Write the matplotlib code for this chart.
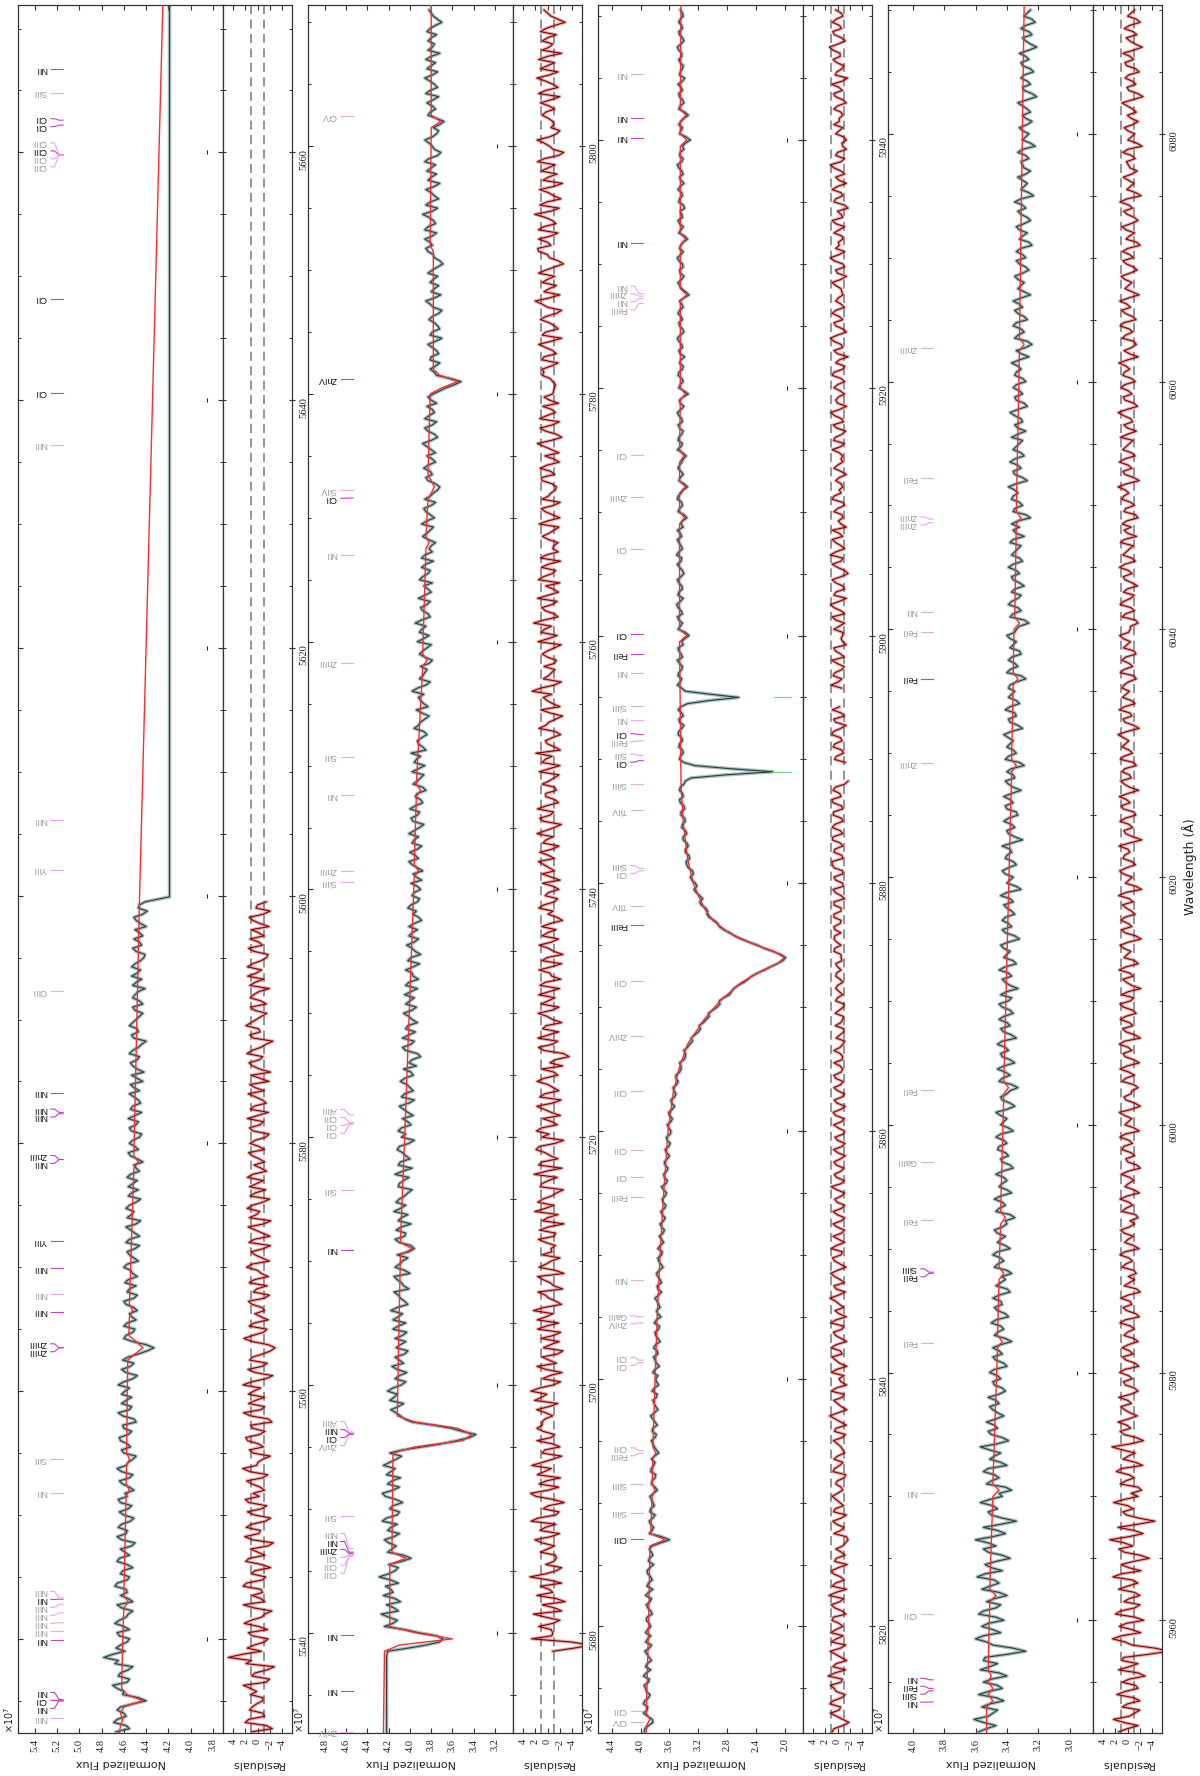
import numpy as np
import matplotlib
matplotlib.use("Agg")
import matplotlib.pyplot as plt
import matplotlib.transforms as mtransforms
from matplotlib.ticker import MultipleLocator, FormatStrFormatter

plt.rcParams['font.family'] = 'DejaVu Sans'
plt.rcParams['font.serif'] = ['Liberation Serif', 'DejaVu Serif']
plt.rcParams['mathtext.fontset'] = 'dejavusans'

# wavelength range of each row (Angstrom)
row_lims = [(5532.4, 5671.9), (5671.9, 5811.4), (5811.4, 5950.9), (5950.9, 6090.4)]
# first sample of each row; flux0..3 are read every 0.5 A, mid0..3 sit half way between
row_start = [5532.5, 5678.5, 5811.5, 5951.0]
step = 0.5

# observed flux in units of 1e5 (467 -> 4.67 x 1e7)
flux0 = [467, 458, 466, 460, 463, 440, 461, 466, 457, 465,
         456, 468, 478, 459, 463, 455, 466, 460, 464, 456,
         462, 452, 463, 458, 466, 455, 461, 457, 464, 459,
         453, 462, 458, 465, 454, 460, 456, 463, 457, 451,
         461, 455, 462, 458, 452, 460, 454, 463, 456, 460,
         449, 461, 455, 462, 453, 459, 465, 452, 458, 454,
         461, 447, 433, 452, 458, 450, 457, 453, 448, 458,
         451, 457, 449, 456, 452, 460, 447, 455, 450, 458,
         446, 454, 449, 457, 451, 455, 445, 453, 456, 448,
         454, 449, 443, 454, 447, 455, 446, 453, 449, 456,
         444, 452, 447, 455, 451, 443, 453, 448, 454, 446,
         452, 444, 451, 447, 455, 449, 443, 452, 446, 450,
         441, 449, 453, 445, 450, 442, 449, 444, 451, 446,
         440, 449, 443, 447, 441]
mid0 = [455, 469, 458, 466, 452, 447, 460, 470, 455, 463,
        452, 465, 470, 467, 457, 464, 455, 468, 458, 452,
        466, 456, 457, 468, 457, 463, 452, 466, 455, 463,
        450, 466, 457, 462, 451, 464, 453, 465, 459, 455,
        464, 452, 466, 456, 449, 462, 457, 464, 453, 461,
        451, 465, 453, 458, 462, 455, 460, 448, 462, 451,
        456, 439, 440, 460, 452, 460, 449, 455, 451, 460,
        448, 455, 459, 448, 454, 457, 451, 457, 446, 455,
        450, 458, 445, 453, 458, 449, 456, 447, 452, 457,
        446, 451, 448, 456, 450, 452, 444, 455, 447, 450,
        454, 445, 451, 446, 454, 448, 442, 452, 448, 455,
        447, 440, 453, 448, 452, 446, 450, 443, 452, 447,
        452, 444, 448, 453, 445, 441, 452, 446, 443, 450,
        445, 451, 439, 446]
flux1 = [421, 385, 369, 392, 424, 412, 427, 415, 409, 425,
         418, 411, 429, 414, 420, 399, 421, 413, 424, 410,
         418, 426, 412, 419, 407, 423, 416, 421, 409, 418,
         425, 413, 419, 388, 356, 338, 361, 398, 409, 418,
         406, 415, 421, 408, 414, 403, 417, 410, 405, 413,
         404, 407, 416, 404, 411, 418, 402, 409, 415, 406,
         412, 400, 414, 407, 412, 396, 410, 405, 413, 399,
         408, 415, 404, 410, 402, 411, 406, 414, 398, 409,
         404, 412, 401, 408, 411, 399, 407, 402, 410, 396,
         405, 400, 409, 397, 406, 401, 390, 404, 399, 407,
         395, 402, 398, 406, 394, 400, 405, 393, 401, 397,
         404, 391, 399, 395, 403, 392, 398, 401, 389, 397,
         402, 393, 398, 390, 399, 394, 388, 398, 392, 400,
         389, 396, 401, 391, 397, 393, 400, 388, 395, 385,
         397, 390, 398, 386, 394, 399, 388, 393, 384, 396,
         390, 382, 394, 387, 392, 398, 385, 391, 386, 390,
         379, 391, 384, 393, 382, 389, 395, 381, 388, 384,
         392, 380, 387, 391, 383, 389, 378, 386, 382, 376,
         388, 381, 389, 377, 385, 380, 386, 378, 372, 383,
         379, 387, 376, 384, 380, 388, 374, 383, 379, 386,
         377, 384, 380, 378, 366, 352, 375, 381, 372, 380,
         375, 383, 370, 379, 374, 382, 373, 378, 385, 371,
         377, 381, 374, 379, 369, 377, 383, 379, 386, 375,
         383, 378, 388, 374, 381, 377, 385, 372, 380, 384,
         376, 382, 371, 379, 386, 375, 378, 368, 383, 376,
         384, 373, 381, 377, 386, 374, 380, 385, 372, 379,
         383, 375, 381, 370, 378, 382]
mid1 = [402, 372, 375, 405, 416, 420, 411, 422, 414, 416,
        423, 418, 420, 411, 408, 406, 417, 420, 415, 421,
        412, 422, 410, 416, 413, 426, 410, 417, 422, 414,
        419, 408, 407, 370, 344, 351, 378, 405, 413, 411,
        419, 412, 416, 404, 410, 412, 406, 414, 402, 409,
        414, 403, 411, 416, 407, 412, 405, 411, 401, 408,
        415, 405, 410, 402, 401, 399, 414, 404, 408, 411,
        402, 409, 413, 405, 398, 410, 401, 407, 411, 400,
        407, 410, 396, 404, 408, 402, 397, 406, 401, 408,
        397, 403, 405, 399, 394, 398, 393, 407, 396, 401,
        404, 393, 401, 398, 404, 396, 399, 404, 392, 398,
        397, 402, 390, 398, 396, 401, 393, 396, 392, 394,
        399, 391, 396, 393, 389, 397, 393, 401, 395, 393,
        398, 392, 396, 387, 399, 391, 395, 390, 393, 388,
        393, 387, 392, 396, 390, 385, 392, 389, 387, 392,
        386, 389, 383, 390, 387, 393, 381, 388, 384, 382,
        386, 388, 380, 387, 391, 385, 389, 383, 390, 381,
        386, 383, 379, 388, 381, 385, 389, 379, 380, 383,
        384, 378, 384, 381, 387, 376, 381, 374, 376, 385,
        381, 383, 379, 376, 384, 380, 377, 386, 375, 382,
        379, 375, 383, 372, 358, 362, 377, 376, 381, 373,
        379, 376, 381, 372, 377, 379, 370, 381, 377, 380,
        373, 378, 383, 374, 372, 378, 385, 381, 379, 386,
        376, 382, 379, 385, 373, 380, 377, 383, 375, 380,
        386, 374, 377, 382, 379, 373, 372, 375, 381, 379,
        378, 385, 374, 381, 379, 384, 376, 380, 383, 377,
        380, 384, 376, 374, 380]
flux2 = [395, 389, 384, 396, 390, 394, 387, 393, 389, 396,
         386, 391, 388, 394, 385, 390, 393, 386, 392, 384,
         390, 387, 393, 383, 389, 386, 391, 382, 388, 385,
         384, 360, 388, 382, 388, 380, 386, 383, 387, 377,
         385, 380, 386, 382, 385, 375, 381, 385, 378, 383,
         380, 386, 376, 381, 378, 384, 375, 379, 383, 374,
         380, 376, 382, 373, 379, 375, 381, 372, 378, 375,
         380, 371, 377, 373, 378, 369, 375, 371, 376, 368,
         374, 367, 373, 366, 372, 365, 370, 364, 371, 363,
         368, 362, 367, 360, 366, 359, 364, 358, 363, 356,
         361, 353, 358, 351, 355, 348, 351, 344, 346, 338,
         340, 332, 330, 320, 319, 309, 306, 294, 291, 277,
         271, 257, 246, 228, 211, 199, 217, 238, 261, 276,
         291, 298, 308, 310, 318, 318, 326, 324, 331, 328,
         336, 332, 338, 334, 341, 336, 343, 338, 344, 339,
         345, 341, 346, 340, 330, 217, 325, 346, 341, 347,
         342, 348, 343, 346, 341, 348, 335, 264, 338, 349,
         343, 347, 342, 349, 344, 348, 343, 333, 348, 342,
         349, 344, 350, 341, 347, 343, 349, 340, 346, 344,
         350, 342, 347, 343, 349, 344, 336, 348, 342, 349,
         344, 335, 347, 341, 348, 343, 337, 349, 342, 347,
         341, 348, 343, 349, 340, 346, 334, 347, 341, 348,
         342, 346, 339, 347, 343, 349, 340, 346, 342, 348,
         341, 346, 333, 343, 348, 340, 346, 342, 349, 341,
         344, 335, 347, 341, 348, 343, 339, 347, 342, 348,
         340, 346, 343, 349, 341, 345, 342, 331, 346, 342,
         344, 334, 347, 340, 346, 342, 348, 339, 345, 341,
         347, 343, 349, 340, 346, 342, 347, 341, 345]
mid2 = [394, 383, 390, 391, 396, 389, 392, 395, 388, 392,
        393, 385, 391, 388, 393, 386, 390, 388, 391, 386,
        392, 385, 389, 391, 384, 390, 387, 389, 383, 388,
        372, 371, 384, 386, 383, 387, 381, 385, 382, 380,
        384, 379, 385, 380, 381, 378, 383, 380, 384, 377,
        383, 381, 379, 383, 377, 381, 378, 376, 380, 378,
        382, 377, 379, 376, 380, 374, 378, 376, 373, 377,
        375, 376, 371, 376, 374, 372, 376, 370, 373, 371,
        369, 371, 368, 370, 367, 369, 366, 368, 365, 367,
        364, 366, 363, 364, 361, 363, 359, 361, 358, 360,
        356, 357, 353, 354, 350, 351, 346, 344, 340, 338,
        335, 328, 325, 317, 313, 305, 300, 290, 285, 274,
        265, 251, 238, 220, 203, 206, 229, 250, 270, 285,
        293, 305, 307, 316, 314, 323, 322, 329, 327, 334,
        337, 333, 338, 336, 341, 338, 342, 339, 344, 340,
        346, 342, 345, 338, 282, 276, 340, 345, 342, 346,
        343, 347, 340, 347, 343, 344, 305, 302, 343, 345,
        348, 343, 346, 342, 347, 341, 339, 338, 345, 347,
        342, 348, 345, 348, 342, 347, 344, 342, 349, 343,
        347, 344, 349, 345, 341, 342, 340, 346, 343, 348,
        341, 340, 345, 344, 346, 341, 342, 344, 348, 343,
        346, 342, 347, 344, 345, 341, 340, 345, 343, 347,
        341, 344, 345, 342, 347, 345, 342, 347, 344, 346,
        343, 340, 338, 346, 343, 345, 341, 347, 344, 346,
        341, 339, 344, 346, 342, 345, 341, 346, 343, 345,
        344, 341, 347, 343, 346, 340, 338, 337, 344, 347,
        340, 339, 345, 342, 347, 344, 342, 346, 342, 345,
        343, 347, 344, 342, 347, 343, 345, 342]
flux3 = [358, 347, 361, 349, 356, 342, 358, 343, 355, 340,
         357, 346, 354, 328, 349, 360, 344, 356, 342, 358,
         347, 353, 340, 356, 345, 359, 343, 354, 338, 352,
         347, 360, 341, 355, 334, 350, 346, 357, 343, 337,
         353, 345, 355, 340, 351, 344, 357, 339, 350, 346,
         353, 342, 349, 345, 352, 341, 348, 344, 351, 340,
         347, 343, 349, 337, 348, 342, 350, 339, 346, 343,
         349, 338, 347, 341, 337, 348, 342, 349, 338, 346,
         341, 348, 340, 335, 347, 341, 348, 337, 345, 340,
         347, 336, 343, 339, 346, 340, 347, 336, 344, 340,
         347, 335, 343, 340, 333, 345, 338, 346, 335, 343,
         339, 346, 334, 342, 338, 345, 336, 343, 339, 344,
         333, 341, 337, 345, 334, 342, 338, 344, 332, 341,
         337, 343, 335, 340, 336, 344, 331, 340, 336, 343,
         334, 341, 337, 343, 330, 339, 335, 342, 333, 340,
         336, 342, 331, 339, 335, 340, 329, 341, 334, 340,
         336, 342, 330, 338, 334, 341, 332, 339, 335, 338,
         328, 340, 333, 339, 331, 338, 334, 340, 334, 326,
         338, 331, 339, 333, 337, 329, 336, 332, 339, 330,
         337, 333, 338, 329, 336, 337, 325, 336, 330, 337,
         333, 339, 327, 335, 331, 338, 329, 336, 332, 337,
         328, 335, 331, 338, 327, 334, 330, 336, 328, 335,
         331, 337, 326, 334, 324, 335, 329, 336, 327, 333,
         330, 336, 325, 333, 329, 335, 326, 332, 328, 334,
         324, 332, 327, 334, 325, 331, 328, 335, 323, 331,
         327, 333, 325, 330, 326, 333, 322, 330, 326, 332,
         324, 330, 327, 333, 321, 329, 325, 331, 323, 330,
         326, 332, 321, 328, 324, 331, 322, 329, 325]
mid3 = [353, 355, 352, 346, 351, 347, 352, 346, 350, 345,
        351, 355, 340, 336, 353, 355, 349, 352, 347, 355,
        344, 348, 345, 351, 348, 354, 350, 347, 343, 355,
        352, 349, 346, 344, 343, 352, 349, 351, 345, 341,
        350, 348, 352, 344, 348, 351, 346, 343, 352, 348,
        347, 346, 351, 347, 345, 343, 349, 346, 348, 342,
        349, 345, 344, 341, 346, 344, 347, 341, 348, 344,
        345, 340, 344, 343, 340, 346, 344, 346, 341, 344,
        346, 343, 341, 338, 345, 343, 344, 340, 343, 342,
        343, 338, 344, 341, 345, 342, 344, 339, 342, 344,
        340, 338, 344, 338, 337, 343, 341, 342, 338, 344,
        341, 343, 337, 344, 340, 342, 338, 345, 337, 340,
        338, 343, 339, 341, 336, 340, 342, 339, 335, 343,
        339, 341, 337, 342, 338, 340, 334, 338, 341, 339,
        336, 340, 338, 337, 335, 340, 337, 339, 334, 341,
        338, 337, 336, 341, 336, 337, 332, 339, 336, 338,
        339, 337, 333, 339, 335, 338, 334, 337, 339, 334,
        331, 338, 335, 337, 332, 336, 338, 335, 332, 329,
        336, 333, 337, 331, 335, 332, 337, 334, 336, 332,
        335, 331, 336, 334, 332, 333, 328, 335, 332, 336,
        335, 334, 330, 336, 333, 335, 331, 334, 330, 333,
        333, 330, 335, 333, 329, 335, 332, 334, 330, 334,
        333, 332, 331, 328, 327, 333, 331, 334, 329, 335,
        332, 331, 329, 331, 333, 330, 328, 334, 330, 331,
        326, 330, 332, 329, 327, 333, 330, 331, 326, 329,
        330, 328, 329, 331, 328, 330, 325, 328, 330, 327,
        328, 325, 330, 327, 324, 330, 327, 329, 325, 331,
        328, 326, 325, 330, 326, 328, 324, 327]

# stretches without data (drawn flat)
gap0_wave = [5599.9, 5671.9]
gap0_flux = [4.19, 4.19]
gap1_wave = [5671.9, 5678.1]
gap1_flux = [4.22, 4.22]

# fitted model (red), x 1e7
model0_wave = [5532.4, 5533.0, 5533.5, 5534.0, 5534.5, 5535.0, 5535.5, 5536.0, 5540.0, 5542.5,
               5543.0, 5543.5, 5551.5, 5552.0, 5552.5, 5554.0, 5554.5, 5555.0, 5562.5, 5563.0,
               5563.5, 5564.0, 5564.5, 5566.0, 5566.5, 5567.0, 5578.0, 5578.5, 5579.0, 5599.5, 5671.9]
model0_flux = [4.64, 4.63, 4.61, 4.63, 4.60, 4.43, 4.57, 4.62, 4.61, 4.60,
               4.56, 4.60, 4.58, 4.55, 4.58, 4.575, 4.55, 4.575, 4.565, 4.50,
               4.43, 4.49, 4.555, 4.55, 4.52, 4.55, 4.51, 4.47, 4.51, 4.46, 4.25]
model1_wave = [5671.9, 5678.5, 5679.0, 5679.5, 5680.0, 5680.5, 5685.5, 5686.0, 5686.5, 5694.5,
               5695.0, 5695.5, 5696.0, 5696.5, 5697.0, 5697.5, 5710.5, 5711.0, 5711.5, 5720.0,
               5741.0, 5741.5, 5742.0, 5747.5, 5748.0, 5748.5, 5758.0, 5758.5, 5759.0, 5767.5,
               5768.0, 5768.5, 5771.5, 5772.5, 5773.5, 5780.0, 5780.5, 5781.0, 5781.5, 5782.0,
               5791.5, 5792.0, 5801.5, 5802.0, 5802.5, 5811.4]
model1_flux = [4.25, 4.24, 4.10, 3.60, 3.95, 4.19, 4.19, 4.04, 4.17, 4.16,
               3.95, 3.50, 3.42, 3.55, 3.95, 4.12, 4.09, 3.98, 4.09, 4.05,
               3.96, 3.92, 3.96, 3.94, 3.90, 3.94, 3.88, 3.84, 3.88, 3.85,
               3.82, 3.85, 3.83, 3.77, 3.83, 3.81, 3.70, 3.55, 3.72, 3.78,
               3.78, 3.81, 3.80, 3.71, 3.80, 3.80]
model2_wave = [5811.4, 5812.0, 5812.5, 5813.0, 5820.0, 5826.5, 5827.0, 5827.5, 5830.5, 5831.0,
               5831.5, 5833.5, 5834.0, 5834.5, 5845.0, 5850.0, 5855.0, 5860.0, 5863.0, 5865.0,
               5867.0, 5869.0, 5870.5, 5872.0, 5873.0, 5873.5, 5874.0, 5874.5, 5875.0, 5876.0,
               5877.0, 5878.0, 5879.0, 5880.0, 5882.0, 5885.0, 5888.0, 5899.5, 5900.0, 5900.5,
               5909.0, 5909.5, 5910.0, 5911.5, 5912.0, 5912.5, 5914.0, 5914.5, 5915.0, 5919.0,
               5919.5, 5920.0, 5927.0, 5927.5, 5928.0, 5931.5, 5932.0, 5932.5, 5939.5, 5940.0,
               5940.5, 5941.5, 5942.0, 5942.5, 5950.9]
model2_flux = [3.92, 3.92, 3.87, 3.92, 3.89, 3.87, 3.66, 3.86, 3.84, 3.80,
               3.84, 3.83, 3.79, 3.83, 3.77, 3.73, 3.68, 3.62, 3.55, 3.47,
               3.35, 3.12, 2.90, 2.60, 2.30, 2.10, 2.01, 2.15, 2.40, 2.78,
               3.00, 3.12, 3.20, 3.27, 3.35, 3.41, 3.44, 3.46, 3.36, 3.46,
               3.46, 3.39, 3.46, 3.46, 3.38, 3.46, 3.46, 3.40, 3.46, 3.45,
               3.38, 3.45, 3.45, 3.36, 3.45, 3.45, 3.38, 3.45, 3.45, 3.36,
               3.45, 3.45, 3.37, 3.45, 3.44]
model3_wave = [5950.9, 5953.0, 5953.5, 5954.0, 5954.5, 5955.0, 5955.5, 5956.0, 5961.5, 5962.0,
               5962.5, 5970.0, 5970.5, 5971.0, 5982.0, 5982.5, 5983.0, 5987.5, 5988.0, 5988.5,
               5992.0, 5992.5, 5993.0, 6002.5, 6003.0, 6003.5, 6028.5, 6029.0, 6029.5, 6035.5,
               6036.0, 6036.5, 6040.0, 6040.5, 6041.0, 6048.5, 6049.0, 6049.5, 6062.5, 6063.0,
               6063.5, 6090.4]
model3_flux = [3.53, 3.53, 3.49, 3.52, 3.49, 3.52, 3.50, 3.52, 3.51, 3.47,
               3.51, 3.49, 3.45, 3.49, 3.46, 3.43, 3.46, 3.45, 3.42, 3.45,
               3.44, 3.41, 3.44, 3.42, 3.39, 3.42, 3.37, 3.34, 3.37, 3.36,
               3.33, 3.36, 3.355, 3.32, 3.35, 3.34, 3.31, 3.34, 3.32, 3.29,
               3.32, 3.29]

# line identifications: (wavelength, ion, strong)
lines0 = [(5533.6, 'NIII', 0), (5535.0, 'NII', 1), (5535.0, 'CII', 1), (5535.1, 'NII', 1),
          (5539.9, 'NII', 1), (5540.6, 'NIII', 0), (5541.3, 'NIII', 0), (5542.1, 'NIII', 0),
          (5542.8, 'NIII', 0), (5543.2, 'NII', 1), (5543.3, 'NIII', 0),
          (5551.8, 'NII', 0), (5554.5, 'SiII', 0), (5563.5, 'ZnIII', 1), (5563.5, 'ZnIII', 1),
          (5566.4, 'NIII', 1), (5567.8, 'NIII', 0), (5569.9, 'NIII', 1), (5572.1, 'YIII', 1),
          (5578.7, 'NIII', 1), (5578.7, 'ZnIII', 1), (5582.4, 'NIII', 1), (5582.5, 'NIII', 1),
          (5584.1, 'NIII', 1), (5592.3, 'OIII', 0), (5602.1, 'YIII', 0), (5606.1, 'NIII', 0),
          (5636.4, 'NIII', 0), (5640.6, 'CII', 1), (5648.2, 'CII', 1),
          (5659.8, 'CIII', 0), (5659.8, 'CIII', 0), (5659.8, 'CIII', 1), (5659.8, 'CIII', 0),
          (5662.2, 'CII', 1), (5662.6, 'CII', 1), (5664.8, 'SiII', 0), (5666.7, 'NII', 1)]
lines1 = [(5672.0, 'ZnIV', 0), (5675.3, 'NII', 1), (5679.8, 'NII', 1),
          (5686.2, 'CIII', 0), (5686.2, 'CIII', 0), (5686.3, 'CII', 0), (5686.4, 'ZnIII', 1),
          (5686.5, 'NII', 1), (5686.8, 'NIII', 0), (5689.4, 'SiII', 0),
          (5696.0, 'ZnIV', 0), (5696.0, 'CII', 1), (5696.1, 'NIII', 1), (5696.2, 'AlIII', 0),
          (5710.9, 'NII', 1), (5715.7, 'SiII', 0),
          (5721.0, 'CII', 0), (5721.1, 'CII', 0), (5721.2, 'CIII', 0), (5721.8, 'AlIII', 0),
          (5740.6, 'SiIII', 0), (5741.5, 'ZnIII', 0), (5747.6, 'NII', 0), (5750.7, 'SiII', 0),
          (5758.3, 'ZnIII', 0), (5767.0, 'NII', 0), (5771.6, 'CII', 1), (5772.2, 'SiIV', 0),
          (5781.2, 'ZnIV', 1), (5802.4, 'CIV', 0)]
lines2 = [(5812.3, 'CIV', 0), (5813.2, 'CIII', 0), (5827.1, 'CIII', 1), (5829.2, 'SiIII', 0),
          (5831.5, 'SiIII', 0), (5834.0, 'FeIII', 0), (5834.2, 'CIII', 0), (5841.3, 'CII', 0),
          (5841.5, 'CII', 0), (5844.5, 'ZnIV', 0), (5845.0, 'GaIII', 0), (5848.0, 'NIII', 0),
          (5854.7, 'FeIII', 0), (5856.3, 'CII', 0), (5858.5, 'CIII', 0), (5863.2, 'CIII', 0),
          (5867.7, 'ZnIV', 0), (5872.1, 'CIII', 0), (5876.6, 'FeIII', 1), (5878.2, 'TiIV', 0),
          (5881.0, 'CII', 0), (5881.2, 'SiIII', 0), (5885.9, 'TiIV', 0), (5888.0, 'SiIII', 0),
          (5889.9, 'CII', 1), (5890.3, 'SiII', 0), (5891.5, 'FeIII', 0), (5892.0, 'CII', 1),
          (5893.2, 'NII', 0), (5894.3, 'SiIII', 0), (5897.0, 'NII', 0), (5898.5, 'FeII', 1),
          (5900.1, 'CII', 1), (5907.0, 'CII', 0), (5911.2, 'ZnIII', 0), (5914.6, 'CII', 0),
          (5926.8, 'FeIII', 0), (5927.2, 'NII', 0), (5927.4, 'ZnIII', 0), (5927.6, 'NII', 0),
          (5931.7, 'NII', 1), (5940.2, 'NII', 1), (5941.8, 'NII', 1), (5945.3, 'NII', 0)]
lines3 = [(5953.4, 'NII', 1), (5954.3, 'SiIII', 1), (5954.5, 'FeII', 1), (5955.2, 'NII', 1),
          (5960.5, 'CIII', 0), (5970.3, 'NII', 0), (5982.4, 'FeII', 0), (5988.0, 'FeII', 1),
          (5988.1, 'SiIII', 1), (5992.3, 'FeII', 0), (5997.0, 'GaIII', 0), (6002.8, 'FeII', 0),
          (6029.2, 'ZnIII', 0), (6036.0, 'FeII', 1), (6039.8, 'FeII', 0), (6041.4, 'NII', 0),
          (6048.6, 'ZnIII', 0), (6048.9, 'ZnIII', 0), (6052.2, 'FeII', 0), (6062.7, 'ZnIII', 0)]
# interstellar sodium (green), not part of the fit
nai_wave = [5889.0, 5895.0]

flux_lims = [(5.55, 3.71), (4.96, 3.03), (4.59, 1.75), (4.16, 2.85)]
flux_step = [0.2, 0.2, 0.4, 0.2]
sigma = 0.035   # flux error used to normalise the residuals (x 1e7)

fluxes = [(flux0, mid0), (flux1, mid1), (flux2, mid2), (flux3, mid3)]
models = [(model0_wave, model0_flux), (model1_wave, model1_flux),
          (model2_wave, model2_flux), (model3_wave, model3_flux)]
gaps = [(gap0_wave, gap0_flux), (gap1_wave, gap1_flux), None, None]
all_lines = [lines0, lines1, lines2, lines3]


def spread(pos, gap):
    # push label positions apart so they do not overlap
    p = list(pos)
    for _ in range(300):
        moved = False
        for i in range(1, len(p)):
            d = p[i] - p[i - 1]
            if d < gap - 1e-6:
                s = (gap - d) / 2.0
                p[i - 1] -= s
                p[i] += s
                moved = True
        if not moved:
            break
    return p


def draw_labels(ax, lines):
    tr = mtransforms.blended_transform_factory(ax.transAxes, ax.transData)
    order = sorted(range(len(lines)), key=lambda k: lines[k][0])
    pos = spread([lines[k][0] for k in order], 0.64)
    for k, y in zip(order, pos):
        w, name, strong = lines[k]
        c = '#c93fc9' if strong else '#eaa6ea'
        ax.plot([0.16, 0.178, 0.20, 0.22], [y, y, w, w], color=c, lw=0.8,
                transform=tr, zorder=4)
        ax.text(0.141, y, name, transform=tr, rotation=180, rotation_mode='anchor',
                ha='left', va='center', fontsize=6.5, family='Liberation Sans',
                color='#111111' if strong else '#9a9a9a')


W, H = 1200.0, 1776.0
fig = plt.figure(figsize=(12, 17.76), dpi=100)
spine_c = '#333333'

for r in range(4):
    x0 = 18 + 290 * r
    axf = fig.add_axes([x0 / W, 43 / H, 205 / W, 1728 / H])
    axr = fig.add_axes([(x0 + 205) / W, 43 / H, 69 / W, 1728 / H], sharey=axf)

    main, mid = fluxes[r]
    fl = np.empty(len(main) + len(mid))
    fl[0::2] = np.array(main) / 100.0
    fl[1::2] = np.array(mid) / 100.0
    wave = row_start[r] + 0.5 * step * np.arange(len(fl))
    mw, mf = models[r]
    res = (fl - np.interp(wave, mw, mf)) / sigma
    for w in (nai_wave if r == 2 else []):
        res[np.abs(wave - w) < 0.6] = np.nan

    pw, pf = wave, fl
    if gaps[r] is not None:
        gw, gf = gaps[r]
        if gw[0] < wave[0]:
            pw = np.concatenate([gw, wave])
            pf = np.concatenate([gf, fl])
        else:
            pw = np.concatenate([wave, gw])
            pf = np.concatenate([fl, gf])

    axf.plot(pf, pw, color='#5d7f7f', lw=2.6, alpha=0.5, zorder=2)
    axf.plot(pf, pw, color='#243f3f', lw=0.8, zorder=3)
    axf.plot(mf, mw, color='#ff2a2a', lw=1.0, zorder=3)

    axr.plot(res, wave, color='#c04848', lw=2.4, alpha=0.45, zorder=2)
    axr.plot(res, wave, color='#8b0000', lw=0.8, zorder=3)
    for v in (1, -1):
        axr.axvline(v, color='#8c8c8c', ls=(0, (5, 3)), lw=1.3, zorder=1)

    draw_labels(axf, all_lines[r])
    if r == 2:
        tr = mtransforms.blended_transform_factory(axf.transAxes, axf.transData)
        for w in nai_wave:
            axf.plot([0.86, 0.94], [w, w], color='#7bd67b', lw=0.9, transform=tr, zorder=4)
            axf.text(0.995, w, 'NaI', transform=tr, rotation=180, rotation_mode='anchor',
                     ha='right', va='center', fontsize=6, family='Liberation Sans',
                     color='#222222')

    lo, hi = row_lims[r]
    axf.set_ylim(lo, hi)
    axf.set_xlim(*flux_lims[r])
    axr.set_xlim(5.6, -5.6)

    axf.yaxis.set_major_locator(MultipleLocator(20))
    axf.yaxis.set_minor_locator(MultipleLocator(5))
    axf.xaxis.set_major_locator(MultipleLocator(flux_step[r]))
    axf.xaxis.set_major_formatter(FormatStrFormatter('%.1f'))
    axr.set_xticks([4, 2, 0, -2, -4])

    majors = [t for t in range(5540, 6100, 20) if lo < t < hi]
    axf.plot([0.92] * len(majors), majors, ls='none', marker='|', ms=3, mew=0.8,
             color='#222222', transform=mtransforms.blended_transform_factory(axf.transAxes, axf.transData))

    for ax in (axf, axr):
        for s in ax.spines.values():
            s.set_color(spine_c)
            s.set_linewidth(0.9)
        ax.tick_params(axis='both', which='both', direction='in', color=spine_c,
                       top=True, bottom=True, left=True, right=True)
        ax.tick_params(which='major', length=3.5, width=0.8)
        ax.tick_params(which='minor', length=2, width=0.7)
        ax.tick_params(axis='x', labelrotation=90, labelsize=7.5, pad=4,
                       labelfontfamily='serif', labelcolor='#222222')

    axf.tick_params(axis='y', labelleft=False, labelright=False)
    axr.tick_params(axis='y', which='both', labelleft=False, labelright=True,
                    labelrotation=90, labelsize=7.5, pad=3, labelfontfamily='serif',
                    labelcolor='#222222')
    axr.tick_params(axis='y', which='major', direction='inout', length=5)

    axf.text(0.5, -25 / 1728, 'Normalized Flux', transform=axf.transAxes, rotation=180,
             ha='center', va='top', fontsize=8, color='#222222')
    axr.text(0.5, -26 / 1728, 'Residuals', transform=axr.transAxes, rotation=180,
             ha='center', va='top', fontsize=8, color='#222222')
    axf.text(-0.008, 0.0, r'$\times10^{7}$', transform=axf.transAxes, rotation=90,
             rotation_mode='anchor', ha='left', va='bottom', fontsize=7, color='#222222')

fig.text(1190 / W, 1 - 867 / H, 'Wavelength (Å)', rotation=90, ha='center', va='center',
         fontsize=9, color='#222222')

fig.savefig('out.png', dpi=100)
